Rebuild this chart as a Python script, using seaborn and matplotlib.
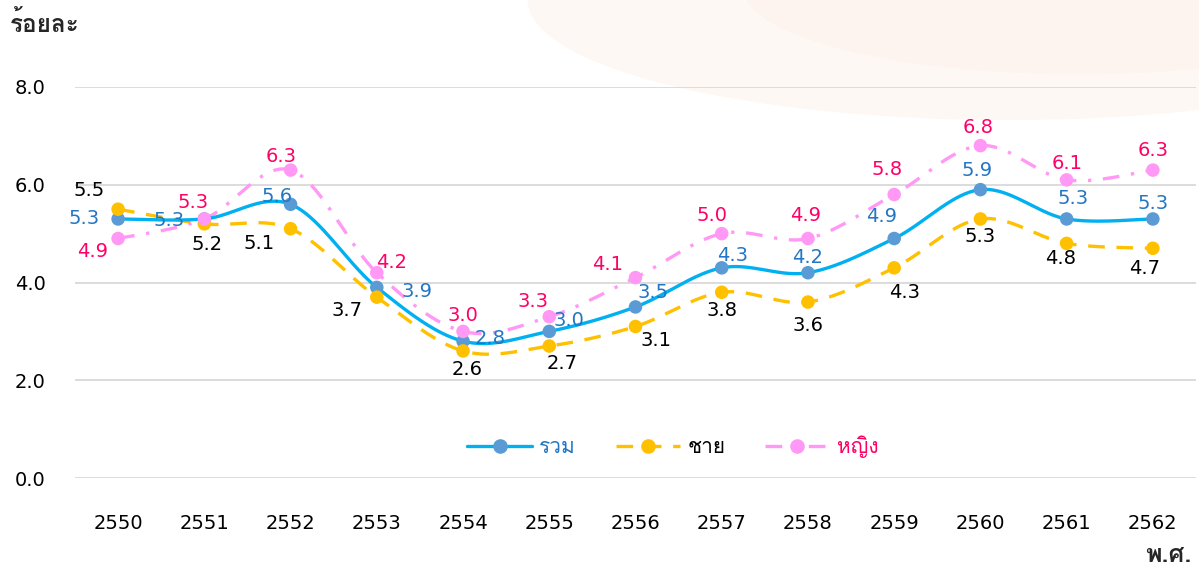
import numpy as np
import pandas as pd
import matplotlib
matplotlib.use("Agg")
import matplotlib.pyplot as plt
from matplotlib.lines import Line2D
from matplotlib.patches import Ellipse
from matplotlib import font_manager as fm
from matplotlib.ft2font import FT2Font
import seaborn as sns

# ---------------- data ----------------
years = ["2550", "2551", "2552", "2553", "2554", "2555", "2556",
         "2557", "2558", "2559", "2560", "2561", "2562"]
total = [5.3, 5.3, 5.6, 3.9, 2.8, 3.0, 3.5, 4.3, 4.2, 4.9, 5.9, 5.3, 5.3]
male = [5.5, 5.2, 5.1, 3.7, 2.6, 2.7, 3.1, 3.8, 3.6, 4.3, 5.3, 4.8, 4.7]
female = [4.9, 5.3, 6.3, 4.2, 3.0, 3.3, 4.1, 5.0, 4.9, 5.8, 6.8, 6.1, 6.3]
series_names = ["รวม", "ชาย", "หญิง"]
y_ticks = [0.0, 2.0, 4.0, 6.0, 8.0]
y_label = "ร้อยละ"
x_label = "พ.ศ."

# label placement offsets (pixels) - layout only
off_total = [(-34, 0), (-35, -2), (-14, 8), (40, -4), (27, 3), (20, 11), (18, 14),
             (11, 12), (0, 15), (-13, 22), (-3, 19), (6, 20), (0, 15)]
off_male = [(-29, 19), (3, -21), (-32, -15), (-30, -13), (4, -19), (13, -17), (20, -14),
            (0, -18), (0, -23), (10, -25), (0, -18), (-6, -15), (-8, -20)]
off_female = [(-26, -13), (-11, 16), (-9, 14), (15, 10), (0, 16), (-16, 15), (-28, 13),
              (-10, 18), (-2, 23), (-7, 25), (-2, 18), (0, 16), (0, 20)]


# ---------------- fonts ----------------
def find_thai_font():
    seen = set()
    for f in fm.fontManager.ttflist:
        if f.name in seen:
            continue
        try:
            cmap = FT2Font(f.fname).get_charmap()
            if 0x0E23 in cmap and 0x0E0D in cmap:
                return f.name
        except Exception:
            pass
        seen.add(f.name)
    return None


sns.set_theme(style="white")
thai = find_thai_font()
base_family = ["DejaVu Sans"] + ([thai] if thai else [])
thai_family = ([thai] if thai else []) + ["DejaVu Sans"]
plt.rcParams["font.family"] = base_family

# ---------------- figure ----------------
fig = plt.figure(figsize=(11.99, 5.72), dpi=100)
fig.patch.set_facecolor("white")
# faint decorative background shape (behind the axes)
fig.patches.append(Ellipse((0.84, 1.00), 0.80, 0.42, transform=fig.transFigure,
                           facecolor="#FEF8F5", edgecolor="none", zorder=-2))
fig.patches.append(Ellipse((0.90, 1.02), 0.56, 0.30, transform=fig.transFigure,
                           facecolor="#FDF3EF", edgecolor="none", zorder=-1))

ax = fig.add_axes([75 / 1199, 1 - 478 / 572, (1196 - 75) / 1199, (478 - 87) / 572])
ax.set_facecolor("none")
ax.set_zorder(1)

x = np.arange(len(years))


def smooth(xv, yv, n=40):
    pts = np.column_stack([xv, yv]).astype(float)
    out = []
    for i in range(len(pts) - 1):
        p0 = pts[i - 1] if i > 0 else pts[i]
        p1, p2 = pts[i], pts[i + 1]
        p3 = pts[i + 2] if i + 2 < len(pts) else pts[i + 1]
        c1 = p1 + (p2 - p0) / 6
        c2 = p2 - (p3 - p1) / 6
        t = np.linspace(0, 1, n)[:, None]
        seg = (1 - t) ** 3 * p1 + 3 * (1 - t) ** 2 * t * c1 + 3 * (1 - t) * t ** 2 * c2 + t ** 3 * p2
        out.append(seg if i == 0 else seg[1:])
    return np.vstack(out)


line_cols = ["#00B0F0", "#FFC000", "#FF99F5"]
mark_cols = ["#5B9BD5", "#FFC000", "#FF99F5"]
text_cols = ["#2276C4", "#000000", "#FF0066"]
dash_styles = [None, (5, 3.5), (5, 3.5, 1, 3.5)]
all_vals = [total, male, female]
all_offs = [off_total, off_male, off_female]

for vals, lc, ds, zo in zip(all_vals, line_cols, dash_styles, [4, 3, 2]):
    s = smooth(x, vals)
    ln, = ax.plot(s[:, 0], s[:, 1], color=lc, lw=2.4, zorder=zo, solid_capstyle="round")
    if ds is not None:
        ln.set_dashes(ds)
        ln.set_dash_capstyle("butt")

df = pd.DataFrame({
    "x": np.tile(x, 3),
    "value": total + male + female,
    "series": np.repeat(series_names, len(years)),
})
sns.scatterplot(data=df, x="x", y="value", hue="series", hue_order=series_names,
                palette=dict(zip(series_names, mark_cols)), s=95, edgecolor="none",
                legend=False, ax=ax, zorder=6)

for vals, offs, tc in zip(all_vals, all_offs, text_cols):
    for xi, v, (dx, dy) in zip(x, vals, offs):
        ax.annotate(f"{v:.1f}", (xi, v), xytext=(dx, dy), textcoords="offset pixels",
                    ha="center", va="center", fontsize=14, color=tc, zorder=7)

ax.set_xlim(-0.5, 12.5)
ax.set_ylim(0, 8)
ax.set_yticks(y_ticks)
ax.set_yticklabels([f"{t:.1f}" for t in y_ticks])
ax.set_xticks(x)
ax.set_xticklabels(years)
ax.grid(axis="y", color="#D9D9D9", lw=1.3)
ax.grid(axis="x", visible=False)
for sp in ax.spines.values():
    sp.set_visible(False)
ax.tick_params(axis="y", length=0, pad=21, labelsize=14, labelcolor="#000000")
ax.tick_params(axis="x", length=0, pad=26, labelsize=14, labelcolor="#000000")
ax.set_xlabel("")
ax.set_ylabel("")

# axis titles
fig.text(10 / 1199, 1 - 24 / 572, y_label, fontsize=17.5, fontweight="bold",
         ha="left", va="center", family=thai_family)
fig.text(1191 / 1199, 1 - 556 / 572, x_label, fontsize=18, fontweight="bold",
         ha="right", va="center", family=thai_family)

# legend
handles = []
for lc, mc, ds in zip(line_cols, mark_cols, dash_styles):
    h = Line2D([0], [0], color=lc, lw=2.4, marker="o", markersize=9.5,
               markerfacecolor=mc, markeredgecolor=mc)
    if ds is not None:
        h.set_dashes(ds)
    handles.append(h)
leg = ax.legend(handles, series_names, loc="center",
                bbox_to_anchor=((673 - 75) / 1121, (478 - 447) / 391),
                ncol=3, frameon=False, handlelength=3.1, handletextpad=0.35, columnspacing=1.9,
                prop={"family": thai_family, "size": 15})
for t, c in zip(leg.get_texts(), text_cols):
    t.set_color(c)

fig.savefig("out.png", dpi=100, facecolor="white")
